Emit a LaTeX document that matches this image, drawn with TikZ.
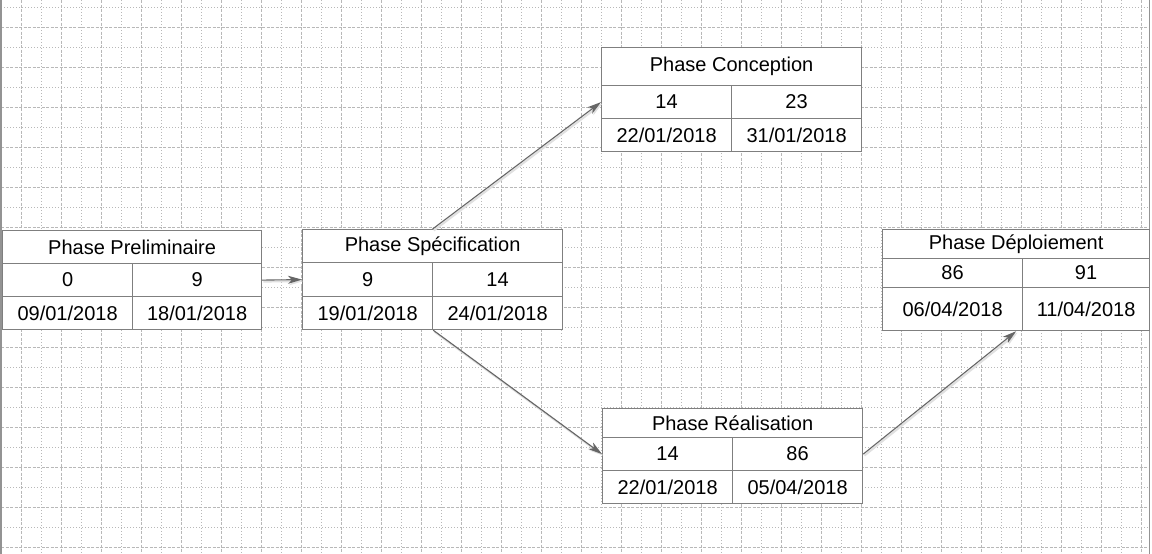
\documentclass[tikz,border=0pt]{standalone}
\usepackage{fontspec}
\setmainfont{Liberation Sans}
\usetikzlibrary{arrows.meta,calc}
\definecolor{boxgray}{HTML}{7F7F7F}
\definecolor{arrowgray}{HTML}{666666}
\definecolor{gridgray}{HTML}{B8B8B8}
\newcommand\cellnode[6]{\node[cell, minimum width=#4pt, minimum height=#5pt] (#1) at (#2,#3) {#6};}
\begin{document}
\begin{tikzpicture}[x=1pt,y=-1pt,
  cell/.style={draw=boxgray, line width=1.2pt, fill=white, inner sep=0pt, anchor=north west,
    font=\fontsize{20}{23}\selectfont, text=black},
  link/.style={draw=arrowgray, line width=1.1pt, -{Stealth[length=14pt,width=8pt,inset=4pt]},
    preaction={draw=black!12, line width=2pt, transform canvas={shift={(1.2pt,-1.5pt)}}}},
  majorline/.style={draw=gridgray, line width=0.8pt, dash pattern=on 3pt off 1.5pt},
  minorline/.style={draw=gridgray, line width=0.8pt, dash pattern=on 1pt off 2pt},
  border/.style={draw=gridgray!80!black, line width=1.2pt}]
\fill[white] (0,0) rectangle (1152,554);
\useasboundingbox (0,0) rectangle (1152,554);
% grid
\foreach \k in {0,...,56}{
  \pgfmathtruncatemacro{\ev}{mod(\k,2)}
  \ifnum\ev=0
    \draw[majorline] (21.7+20*\k,0) -- (21.7+20*\k,554);
  \else
    \draw[minorline] (21.7+20*\k,0) -- (21.7+20*\k,554);
  \fi}
\foreach \k in {0,...,27}{
  \pgfmathtruncatemacro{\ev}{mod(\k,2)}
  \ifnum\ev=1
    \draw[majorline] (1,7+20*\k) -- (1149,7+20*\k);
  \else
    \draw[minorline] (1,7+20*\k) -- (1149,7+20*\k);
  \fi}
\draw[border] (1,0) -- (1,554);
\draw[border] (1149.5,0) -- (1149.5,554);
% Phase Preliminaire
\cellnode{A-t}{2}{230}{259}{33}{Phase Preliminaire}
\cellnode{A-1}{2}{263}{130}{33}{0}
\cellnode{A-2}{132}{263}{129}{33}{9}
\cellnode{A-3}{2}{296}{130}{33}{09/01/2018}
\cellnode{A-4}{132}{296}{129}{33}{18/01/2018}
% Phase Specification
\cellnode{B-t}{302}{229}{260}{33}{Phase Spécification}
\cellnode{B-1}{302}{262}{130}{34}{9}
\cellnode{B-2}{432}{262}{130}{34}{14}
\cellnode{B-3}{302}{296}{130}{33}{19/01/2018}
\cellnode{B-4}{432}{296}{130}{33}{24/01/2018}
% Phase Conception
\cellnode{C-t}{601}{47}{260}{38}{Phase Conception}
\cellnode{C-1}{601}{85}{130}{33}{14}
\cellnode{C-2}{731}{85}{130}{33}{23}
\cellnode{C-3}{601}{118}{130}{33}{22/01/2018}
\cellnode{C-4}{731}{118}{130}{33}{31/01/2018}
% Phase Realisation
\cellnode{E-t}{602}{408}{260}{29}{Phase Réalisation}
\cellnode{E-1}{602}{437}{130}{33}{14}
\cellnode{E-2}{732}{437}{130}{33}{86}
\cellnode{E-3}{602}{470}{130}{33}{22/01/2018}
\cellnode{E-4}{732}{470}{130}{33}{05/04/2018}
% Phase Deploiement
\cellnode{D-t}{882}{229}{267}{29}{Phase Déploiement}
\cellnode{D-1}{882}{258}{140}{29}{86}
\cellnode{D-2}{1022}{258}{127}{29}{91}
\cellnode{D-3}{882}{287}{140}{43}{06/04/2018}
\cellnode{D-4}{1022}{287}{127}{43}{11/04/2018}
\coordinate (dtip) at ($(D-3.south east)+(-7,0)$);
% connectors
\draw[link] (A-2.east) -- (B-1.west);
\draw[link] (B-t.north) -- (C-1.west);
\draw[link] (B-3.south east) -- (E-1.west);
\draw[link] (E-2.east) -- (dtip);
\end{tikzpicture}
\end{document}
